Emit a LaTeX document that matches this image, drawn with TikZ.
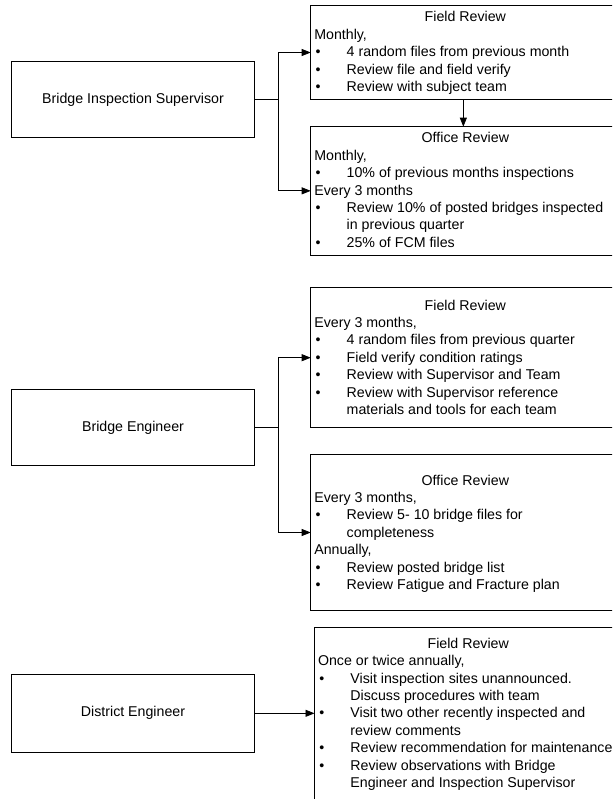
\documentclass[tikz,border=0pt]{standalone}
\usepackage{fontspec}
\setmainfont{Liberation Sans}
\usetikzlibrary{arrows.meta,calc}
\newcommand{\bitem}[1]{\makebox[32.4pt][l]{\hspace{1.4pt}\textbullet}#1}
\newcommand{\bcont}[1]{\hspace*{32.4pt}#1}
\newcommand{\btitle}[2]{\makebox[#1][c]{#2}}
\newcommand{\boxtext}[1]{\parbox[t]{400pt}{\fontsize{14.2}{17.4}\selectfont #1}}
\begin{document}
\begin{tikzpicture}[x=1pt,y=-1pt,
  box/.style={draw=black,line width=0.8pt,rectangle,inner sep=0pt,outer sep=0pt},
  rolebox/.style={box,minimum width=242.3pt,font=\fontsize{14.2}{17}\selectfont},
  txt/.style={anchor=base west,inner sep=0pt,outer sep=0pt},
  conn/.style={draw=black,line width=0.8pt},
  arr/.style={conn,-{Triangle[length=9pt,width=7pt]}}]
\useasboundingbox (0,0) rectangle (612,799);
\fill[white] (0,0) rectangle (612,799);
\clip (0,0) rectangle (612,799);

% role boxes
\node[rolebox,minimum height=76pt] (bis) at (133,99.7) {Bridge Inspection Supervisor};
\node[rolebox,minimum height=76.2pt] (be) at (133,427.6) {Bridge Engineer};
\node[rolebox,minimum height=78pt] (de) at (133,713.3) {District Engineer};

% review boxes
\node[box,minimum width=309.3pt,minimum height=93.6pt] (fr1) at (465.35,52.5) {};
\node[box,minimum width=309.3pt,minimum height=128.3pt] (or1) at (465.35,190.85) {};
\node[box,minimum width=309.3pt,minimum height=140pt] (fr2) at (465.35,357.7) {};
\node[box,minimum width=309.3pt,minimum height=156.4pt] (or2) at (465.35,532.5) {};
\node[box,minimum width=307.5pt,minimum height=182.7pt] (fr3) at (468.25,718.65) {};

% texts
\node[txt] (fr1t) at (314.3,22) {\boxtext{%
\btitle{302.1pt}{Field Review}\\
Monthly,\\
\bitem{4 random files from previous month}\\
\bitem{Review file and field verify}\\
\bitem{Review with subject team}}};

\node[txt] (or1t) at (314.3,143) {\boxtext{%
\btitle{302.1pt}{Office Review}\\
Monthly,\\
\bitem{10\% of previous months inspections}\\
Every 3 months\\
\bitem{Review 10\% of posted bridges inspected}\\
\bcont{in previous quarter}\\
\bitem{25\% of FCM files}}};

\node[txt] (fr2t) at (314.3,310) {\boxtext{%
\btitle{302.1pt}{Field Review}\\
Every 3 months,\\
\bitem{4 random files from previous quarter}\\
\bitem{Field verify condition ratings}\\
\bitem{Review with Supervisor and Team}\\
\bitem{Review with Supervisor reference}\\
\bcont{materials and tools for each team}}};

\node[txt] (or2t) at (314.3,485) {\boxtext{%
\btitle{302.1pt}{Office Review}\\
Every 3 months,\\
\bitem{Review 5- 10 bridge files for}\\
\bcont{completeness}\\
Annually,\\
\bitem{Review posted bridge list}\\
\bitem{Review Fatigue and Fracture plan}}};

\node[txt] (fr3t) at (318,648.3) {\boxtext{%
\btitle{300.5pt}{Field Review}\\
Once or twice annually,\\
\bitem{Visit inspection sites unannounced.}\\
\bcont{Discuss procedures with team}\\
\bitem{Visit two other recently inspected and}\\
\bcont{review comments}\\
\bitem{Review recommendation for maintenance}\\
\bitem{Review observations with Bridge}\\
\bcont{Engineer and Inspection Supervisor}}};

% connectors
\coordinate (j1) at ($(bis.east)+(24.3,0)$);
\draw[conn] (bis.east) -- (j1);
\draw[arr] (j1) |- (fr1.west);
\draw[arr] (j1) |- (or1.west);
\draw[arr] ($(fr1.south)+(-2,0)$) -- ($(or1.north)+(-2,0)$);

\coordinate (j2) at ($(be.east)+(24.3,0)$);
\draw[conn] (be.east) -- (j2);
\draw[arr] (j2) |- (fr2.west);
\draw[arr] (j2) |- (or2.west);

\draw[arr] (de.east) -- (de.east -| fr3.west);
\end{tikzpicture}
\end{document}
